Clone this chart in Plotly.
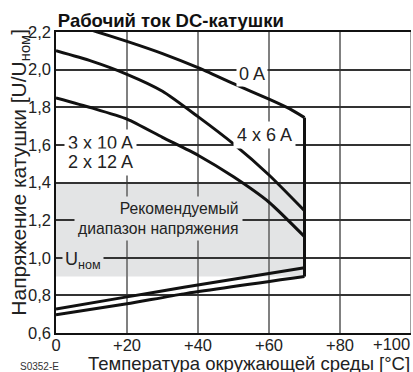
import plotly.graph_objects as go

# ---- data ----
temp_0A = [0, 11.7, 20, 30, 40, 50, 60, 66, 70]
u_0A = [2.27, 2.20, 2.15, 2.085, 2.01, 1.925, 1.843, 1.79, 1.745]

temp_4x6 = [0, 10, 20, 30, 40, 50, 60, 70]
u_4x6 = [2.10, 2.045, 1.975, 1.885, 1.75, 1.605, 1.44, 1.25]

temp_3x10 = [0, 10, 20, 30, 40, 50, 60, 70]
u_3x10 = [1.85, 1.797, 1.737, 1.64, 1.545, 1.43, 1.295, 1.112]

temp_min_a = [0, 20, 36, 70]
u_min_a = [0.727, 0.792, 0.843, 0.947]

temp_min_b = [0, 20, 36, 70]
u_min_b = [0.697, 0.755, 0.808, 0.90]

temp_limit = [70, 70]
u_limit = [1.745, 0.90]

band_temp = [0, 70]
band_u = [0.9, 1.4]

x_ticks = [0, 20, 40, 60, 80, 100]
x_ticktext = ["0", "+20", "+40", "+60", "+80", "+100"]
y_ticks = [0.6, 0.8, 1.0, 1.2, 1.4, 1.6, 1.8, 2.0, 2.2]
y_ticktext = ["0,6", "0,8", "1,0", "1,2", "1,4", "1,6", "1,8", "2,0", "2,2"]

title_text = "Рабочий ток DC-катушки"
x_title = "Температура окружающей среды [°C]"
y_title = "Напряжение катушки [U/U<sub>ном</sub>]"
code_text = "S0352-E"

# ---- figure ----
FONT = "Liberation Sans, Arial, sans-serif"
BAND = "#e3e4e5"
LINE = "#111111"
TXT = "#222222"

fig = go.Figure()

for xs, ys, nm in [
    (temp_0A, u_0A, "0 A"),
    (temp_4x6, u_4x6, "4 x 6 A"),
    (temp_3x10, u_3x10, "3 x 10 A / 2 x 12 A"),
    (temp_min_a, u_min_a, "min a"),
    (temp_min_b, u_min_b, "min b"),
    (temp_limit, u_limit, "limit"),
]:
    fig.add_trace(go.Scatter(x=xs, y=ys, mode="lines", name=nm,
                             line=dict(color=LINE, width=3, shape="spline", smoothing=0.6),
                             hoverinfo="skip"))

fig.add_shape(type="rect", xref="x", yref="y",
              x0=band_temp[0], x1=band_temp[1], y0=band_u[0], y1=band_u[1],
              fillcolor=BAND, line=dict(width=0), layer="below")

# right border (grey like the vertical grid)
fig.add_shape(type="line", xref="x", yref="paper", x0=100, x1=100, y0=0, y1=1,
              line=dict(color="#808080", width=1.5), layer="above")

ann_font = dict(family=FONT, size=18, color=TXT)
fig.add_annotation(x=55.2, y=1.978, xref="x", yref="y", text="0 A", showarrow=False,
                   font=ann_font, bgcolor="white", borderpad=2)
fig.add_annotation(x=58.6, y=1.653, xref="x", yref="y", text="4 x 6 A", showarrow=False,
                   font=ann_font, bgcolor="white", borderpad=3)
fig.add_annotation(x=2.3, y=1.61, xref="x", yref="y", text="3 x 10 A", showarrow=False,
                   xanchor="left", font=ann_font, bgcolor="white", borderpad=3)
fig.add_annotation(x=2.3, y=1.51, xref="x", yref="y", text="2 x 12 A", showarrow=False,
                   xanchor="left", font=ann_font, bgcolor="white", borderpad=3)
fig.add_annotation(x=52.6, y=1.21, xref="x", yref="y",
                   text="Рекомендуемый<br>диапазон напряжения", showarrow=False,
                   xanchor="right", align="right",
                   font=dict(family=FONT, size=15.7, color=TXT), bgcolor=BAND, borderpad=3)
fig.add_annotation(x=1.6, y=0.985, xref="x", yref="y", text="U<sub>ном</sub>", showarrow=False,
                   xanchor="left", font=ann_font, bgcolor=BAND, borderpad=2)

# last x tick label sits inside the right edge
tick_font = dict(family=FONT, size=16.5, color=TXT)
axis_ticktext = x_ticktext[:-1] + [""]
fig.add_annotation(x=x_ticks[-1], y=0, xref="x", yref="paper", text=x_ticktext[-1],
                   showarrow=False, xanchor="right", yanchor="top", yshift=-1,
                   font=tick_font, borderpad=0)

fig.add_annotation(x=1.0, y=-0.1, xref="paper", yref="paper", text=x_title, showarrow=False,
                   xanchor="right", yanchor="middle", borderpad=0,
                   font=dict(family=FONT, size=18.5, color=TXT))
fig.add_annotation(x=-0.104, y=0.533, xref="paper", yref="paper", text=y_title, showarrow=False,
                   textangle=-90, xanchor="center", yanchor="middle",
                   font=dict(family=FONT, size=21, color=TXT))
fig.add_annotation(x=-0.107, y=-0.11, xref="paper", yref="paper", text=code_text, showarrow=False,
                   xanchor="left", yanchor="middle",
                   font=dict(family=FONT, size=10, color="#333"))

fig.update_layout(
    width=413, height=372,
    margin=dict(l=56, r=2, t=32, b=39),
    paper_bgcolor="white", plot_bgcolor="white",
    showlegend=False,
    title=dict(text="<b>" + title_text + "</b>", x=0.14, xref="container", xanchor="left",
               y=1 - 21 / 372, yref="container", yanchor="middle",
               font=dict(family=FONT, size=18.5, color="#111")),
    xaxis=dict(range=[0, 100], tickvals=x_ticks, ticktext=axis_ticktext, showgrid=True,
               gridcolor="#808080", gridwidth=1.5, zeroline=False,
               showline=True, linecolor="#111", linewidth=1.5, mirror=True,
               ticks="", ticklabelstandoff=-4, tickfont=tick_font),
    yaxis=dict(range=[0.6, 2.2], tickvals=y_ticks, ticktext=y_ticktext, showgrid=True,
               gridcolor="#333333", gridwidth=1.5, zeroline=False,
               showline=True, linecolor="#111", linewidth=1.5, mirror=False,
               ticks="", tickfont=tick_font),
)

fig.write_html("out.html", post_script="document.body.style.margin='0';",
               config={"displayModeBar": False})
